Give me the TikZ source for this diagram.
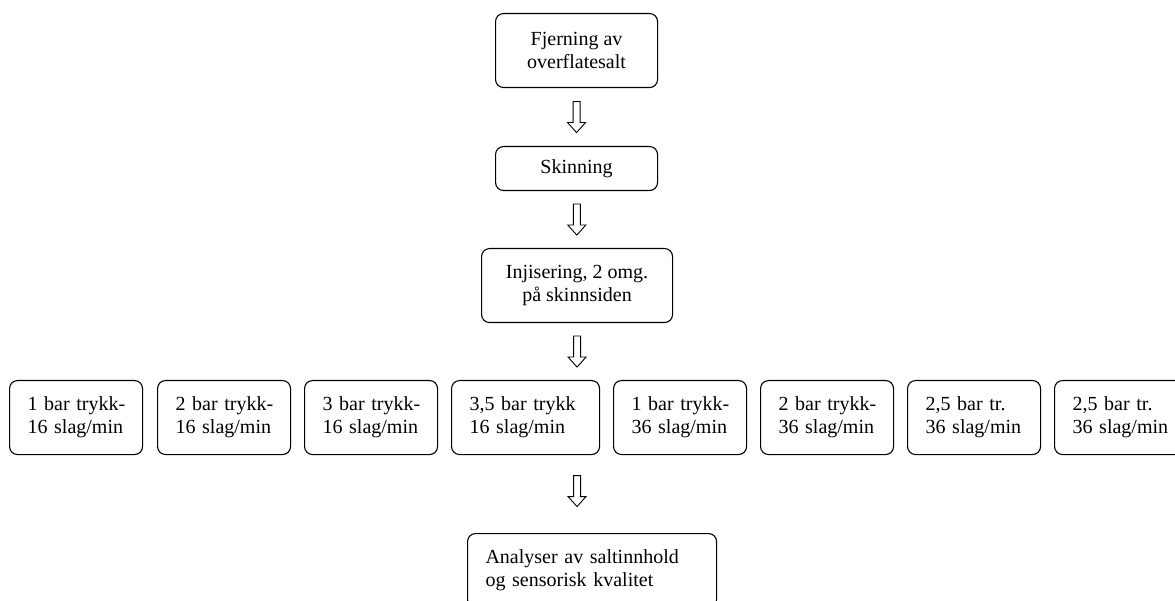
\documentclass[tikz,border=0pt]{standalone}
\usepackage{fontspec}
\setmainfont{Liberation Serif}
\usetikzlibrary{calc}
\begin{document}
\begin{tikzpicture}[x=1pt,y=-1pt,
  box/.style={draw, line width=1.1pt, rounded corners=8pt, inner ysep=0pt,
    anchor=north west, font=\fontsize{20}{23}\selectfont},
  cbox/.style={box, align=center, inner xsep=0pt},
  lbox/.style={box, align=left, inner xsep=18pt, text width=#1, minimum height=74pt},
  pics/downarrow/.style={code={
    \draw[line width=0.9pt, line join=miter]
      (-3.5,-15.5) -- (3.5,-15.5) -- (3.5,5.5) -- (9,5.5) -- (0,15.5)
      -- (-9,5.5) -- (-3.5,5.5) -- cycle;}}]
\clip (0,0) rectangle (1175,601);
\fill[white] (0,0) rectangle (1175,601);

\node[cbox, minimum width=162pt, minimum height=74pt] (fj) at (495,13) {Fjerning av\\overflatesalt};
\node[cbox, minimum width=162pt, minimum height=44pt] (sk) at (495,146) {Skinning};
\node[cbox, minimum width=191pt, minimum height=74pt] (inj) at (481,248) {Injisering, 2 omg.\\på skinnsiden};

\node[lbox=97pt] (r1) at (9,380) {\mbox{1 bar trykk-}\\\mbox{16 slag/min}};
\node[lbox=97pt] (r2) at (157,380) {\mbox{2 bar trykk-}\\\mbox{16 slag/min}};
\node[lbox=97pt] (r3) at (304,380) {\mbox{3 bar trykk-}\\\mbox{16 slag/min}};
\node[lbox=112pt] (r4) at (451,380) {\mbox{3,5 bar trykk}\\\mbox{16 slag/min}};
\node[lbox=97pt] (r5) at (613,380) {\mbox{1 bar trykk-}\\\mbox{36 slag/min}};
\node[lbox=97pt] (r6) at (760,380) {\mbox{2 bar trykk-}\\\mbox{36 slag/min}};
\node[lbox=97pt] (r7) at (907,380) {\mbox{2,5 bar tr.}\\\mbox{36 slag/min}};
\node[lbox=97pt] (r8) at (1054,380) {\mbox{2,5 bar tr.}\\\mbox{36 slag/min}};

\node[lbox=213pt] (an) at (467,533) {Analyser av saltinnhold\\og sensorisk kvalitet};

\coordinate (a1) at ($(fj.south)!0.5!(sk.north)$);
\coordinate (a2) at ($(sk.south)!0.5!(inj.north)$);
\coordinate (a3) at ($(inj.south)!0.5!(inj.south |- r4.north)$);
\coordinate (a4) at ($(inj.south |- r4.south)!0.5!(inj.south |- an.north) + (0,-3)$);
\pic at (a1) {downarrow};
\pic at (a2) {downarrow};
\pic at (a3) {downarrow};
\pic at (a4) {downarrow};
\end{tikzpicture}
\end{document}
